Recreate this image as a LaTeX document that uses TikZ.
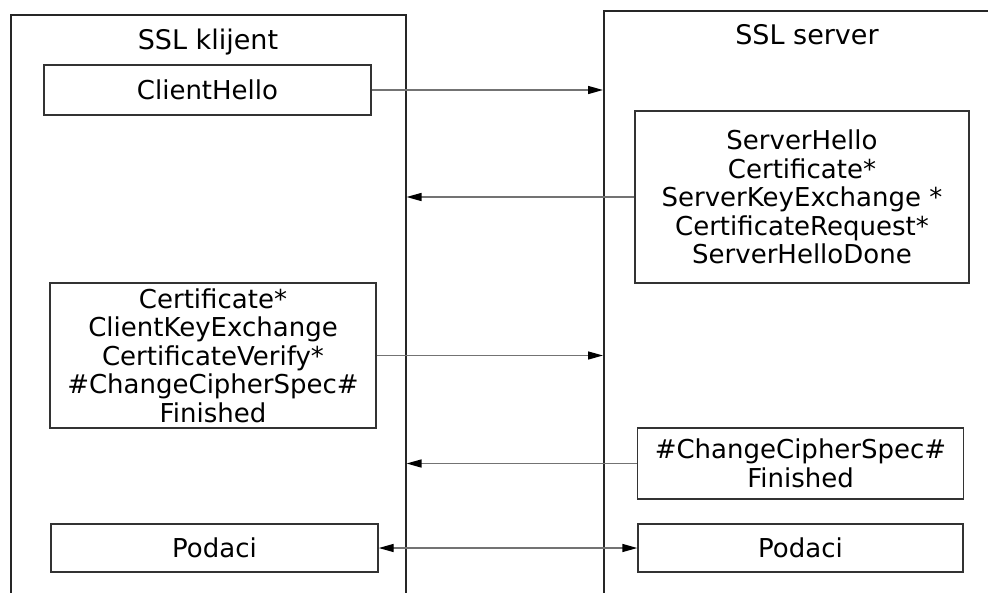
\documentclass[tikz,border=0pt]{standalone}
\usepackage{fontspec}
\setmainfont{DejaVu Sans}
\usetikzlibrary{arrows.meta}
\begin{document}
\begin{tikzpicture}[x=1pt, y=-1pt]
    \tikzstyle{strana}=[draw=black!85, line width=1.5pt, anchor=north west, inner sep=0pt]
    \tikzstyle{poruka}=[draw=black!80, line width=1.4pt, align=center, inner sep=0pt,
                            font=\fontsize{26}{28.5}\selectfont]
    \tikzstyle{naslov}=[font=\fontsize{27}{30}\selectfont]
    \tikzstyle{tok}=[draw=black!55, line width=1.4pt,
                            -{Triangle[length=15pt, width=8pt, color=black]}]
    \clip (0,0) rectangle (988,592);

    \node[strana, minimum width=395pt, minimum height=620pt] (klijent) at (10,14) {};
    \node[strana, minimum width=420pt, minimum height=620pt] (server) at (603,10) {};
    \node[naslov] (klijentime) at (208,42) {SSL klijent};
    \node[naslov] (serverime) at (807,35) {SSL server};

    \node[poruka, minimum width=327pt, minimum height=50pt] (hello) at (207.5,90) {ClientHello};
    \node[poruka, minimum width=334pt, minimum height=172pt] (srvhello) at (802,197)
        {ServerHello\\ Certificate*\\ ServerKeyExchange *\\ CertificateRequest*\\ ServerHelloDone};
    \node[poruka, minimum width=326pt, minimum height=145pt] (clkey) at (213,355.5)
        {Certificate*\\ ClientKeyExchange\\ CertificateVerify*\\ \#ChangeCipherSpec\#\\ Finished};
    \node[poruka, minimum width=326pt, minimum height=71pt] (srvfin) at (800.5,463.5)
        {\#ChangeCipherSpec\#\\ Finished};
    \node[poruka, minimum width=327pt, minimum height=48pt] (clidata) at (214.5,548) {Podaci};
    \node[poruka, minimum width=325pt, minimum height=48pt] (srvdata) at (800.5,548) {Podaci};

    \path[tok] (hello) edge (hello.east -| server.west)
               (srvhello) edge (srvhello.west -| klijent.east)
               (clkey) edge (clkey.east -| server.west)
               (srvfin) edge (srvfin.west -| klijent.east);
    \path[tok, {Triangle[length=15pt, width=8pt, color=black]}-{Triangle[length=15pt, width=8pt, color=black]}]
        (clidata) edge (srvdata);
\end{tikzpicture}
\end{document}
